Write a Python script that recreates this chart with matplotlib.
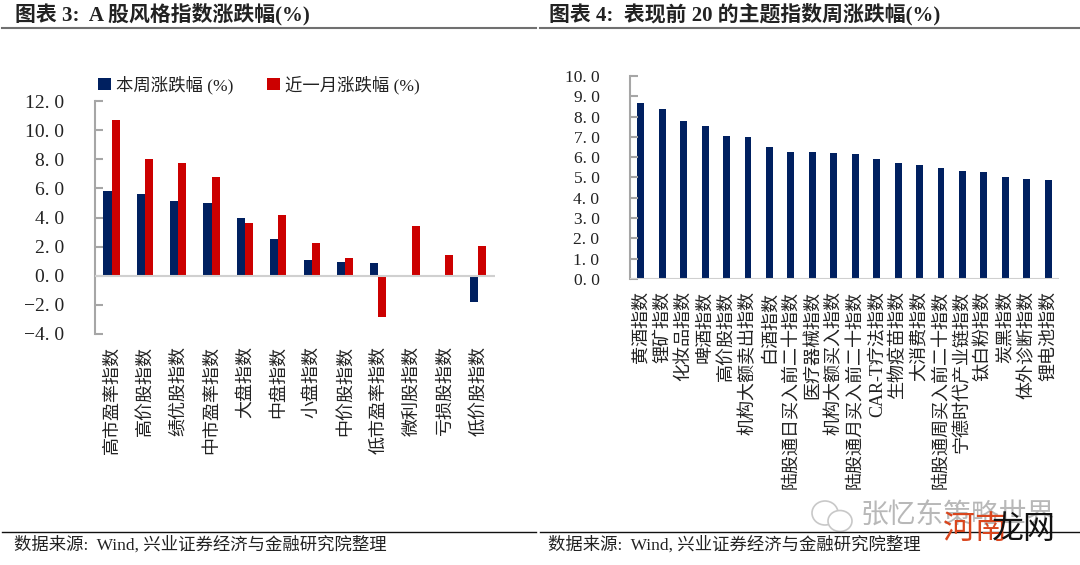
"""A股风格指数与主题指数涨跌幅."""

from matplotlib import pyplot as plt
from matplotlib.patches import Ellipse
from matplotlib.lines import Line2D

W, H = 1080, 565
FONT = ['Liberation Serif', 'Noto Sans CJK SC']
NAVY = '#002060'
RED = '#CC0000'
GREY = '#A6A6A6'
TEXT = '#222222'

style_names = ['高市盈率指数', '高价股指数', '绩优股指数', '中市盈率指数', '大盘指数', '中盘指数',
               '小盘指数', '中价股指数', '低市盈率指数', '微利股指数', '亏损股指数', '低价股指数']
style_week = [5.8, 5.6, 5.1, 5.0, 4.0, 2.5, 1.05, 0.95, 0.9, 0.0, -0.1, -1.8]
style_month = [10.7, 8.0, 7.75, 6.8, 3.6, 4.15, 2.25, 1.25, -2.8, 3.45, 1.4, 2.05]
style_ticks = [-4, -2, 0, 2, 4, 6, 8, 10, 12]

theme_names = ['黄酒指数', '锂矿指数', '化妆品指数', '啤酒指数', '高价股指数', '机构大额卖出指数',
               '白酒指数', '陆股通日买入前二十指数', '医疗器械指数', '机构大额买入指数',
               '陆股通月买入前二十指数', 'CAR-T疗法指数', '生物疫苗指数', '大消费指数',
               '陆股通周买入前二十指数', '宁德时代产业链指数', '钛白粉指数', '炭黑指数',
               '体外诊断指数', '锂电池指数']
theme_week = [8.65, 8.35, 7.8, 7.55, 7.05, 7.0, 6.5, 6.25, 6.25, 6.2,
              6.15, 5.9, 5.7, 5.6, 5.45, 5.3, 5.25, 5.0, 4.95, 4.9]
theme_ticks = [0, 1, 2, 3, 4, 5, 6, 7, 8, 9, 10]

plt.rcParams['font.family'] = FONT


def px_axes(fig, left, top, right, bottom):
    """Axes placed by pixel box."""
    return fig.add_axes([left / W, 1 - bottom / H, (right - left) / W, (bottom - top) / H])


def style_axes(ax, ticks, size):
    for s in ['top', 'right', 'bottom']:
        ax.spines[s].set_visible(False)
    ax.spines['left'].set_color(GREY)
    ax.spines['left'].set_linewidth(1.5)
    ax.set_yticks(ticks)
    ax.set_yticklabels([f'{t:.1f}'.replace('.', '. ').replace('-', '−') for t in ticks],
                       fontsize=size, color=TEXT)
    ax.tick_params(axis='y', direction='in', length=6, width=1.5, color=GREY, pad=22)
    ax.tick_params(axis='x', length=0)


def fig_line(fig, x0, x1, y, color, lw):
    fig.add_artist(Line2D([x0 / W, x1 / W], [1 - y / H, 1 - y / H], color=color, lw=lw))


fig = plt.figure(figsize=(W / 100, H / 100), dpi=100)

# left chart
ax1 = px_axes(fig, 95, 101, 495, 334)
x1 = list(range(len(style_names)))
bw = 0.245
ax1.bar([x - bw / 2 for x in x1], style_week, bw, color=NAVY, label='本周涨跌幅 (%)')
ax1.bar([x + bw / 2 for x in x1], style_month, bw, color=RED, label='近一月涨跌幅 (%)')
ax1.axhline(0, color='#D0D0D0', lw=1.5, zorder=3)
ax1.set_xlim(-0.5, len(style_names) - 0.5)
ax1.set_ylim(-4, 12)
style_axes(ax1, style_ticks, 14)
ax1.set_xticks(x1)
ax1.set_xticklabels(style_names, rotation=90, ha='center', va='top', fontsize=13, color=TEXT)
ax1.tick_params(axis='x', pad=9)
ax1.legend(loc='lower left', bbox_to_anchor=(-0.01, 1.0), ncols=2, frameon=False, fontsize=12.5,
           handlelength=0.75, handleheight=0.75, handletextpad=0.3, columnspacing=1.9,
           borderaxespad=0.2, borderpad=0.2, labelcolor=TEXT)

# right chart
ax2 = px_axes(fig, 630, 76, 1059, 279)
x2 = list(range(len(theme_names)))
ax2.bar(x2, theme_week, 0.32, color=NAVY)
ax2.axhline(0, color='#D0D0D0', lw=1.5, zorder=3)
ax2.set_xlim(-0.5, len(theme_names) - 0.5)
ax2.set_ylim(0, 10)
style_axes(ax2, theme_ticks, 12.5)
ax2.set_xticks(x2)
ax2.set_xticklabels(theme_names, rotation=90, ha='center', va='top', fontsize=13, color=TEXT)
ax2.tick_params(axis='x', pad=9)

# titles, rules and sources
fig.text(15 / W, 1 - 14 / H, '图表 3:  A 股风格指数涨跌幅(%)', fontsize=15, fontweight='bold',
         color=TEXT, va='center')
fig.text(549 / W, 1 - 14 / H, '图表 4:  表现前 20 的主题指数周涨跌幅(%)', fontsize=15, fontweight='bold',
         color=TEXT, va='center')
fig_line(fig, 2, 536, 28, '#707070', 1.5)
fig_line(fig, 540, 1080, 28, '#707070', 1.5)
fig_line(fig, 2, 536, 532, '#111111', 1)
fig_line(fig, 540, 1080, 532, '#111111', 1)
fig.text(14 / W, 1 - 545 / H, '数据来源:  Wind, 兴业证券经济与金融研究院整理', fontsize=12.5,
         color=TEXT, va='center')
fig.text(548 / W, 1 - 545 / H, '数据来源:  Wind, 兴业证券经济与金融研究院整理', fontsize=12.5,
         color=TEXT, va='center')

# watermark
fig.add_artist(Ellipse((825 / W, 1 - 513 / H), 26 / W, 24 / H, fill=False, ec='#C8C8C8', lw=1.2))
fig.add_artist(Ellipse((840 / W, 1 - 521 / H), 24 / W, 21 / H, fc='white', ec='#C8C8C8', lw=1.2))
fig.text(861 / W, 1 - 517 / H, '张忆东策略世界', fontsize=20, color='#B8B8B8', va='center')
fig.text(943 / W, 1 - 530 / H, '河南', fontsize=23, color='#D9461E', va='center')
fig.text(992 / W, 1 - 530 / H, '龙网', fontsize=23, color='#111111', va='center')

plt.savefig('out.png', dpi=100)
